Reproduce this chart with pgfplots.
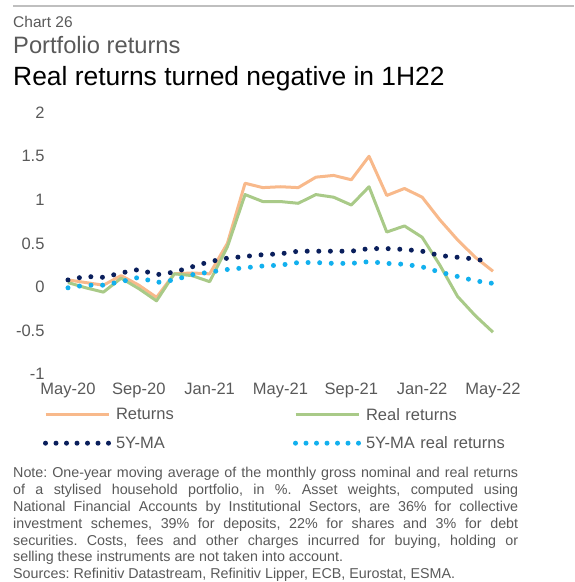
\documentclass[border=0pt]{standalone}
\usepackage{fontspec}
\setmainfont{Liberation Sans}
\usepackage{pgfplots}
\pgfplotsset{compat=1.18}
\definecolor{retor}{HTML}{F8B98B}
\definecolor{realgr}{HTML}{A9CA88}
\definecolor{navy}{HTML}{0A1F5C}
\definecolor{sky}{HTML}{12B0EE}
\definecolor{txtgray}{HTML}{595959}
\definecolor{rulegray}{HTML}{BFBFBF}
\begin{document}
\begin{tikzpicture}[x=1pt,y=1pt]
\useasboundingbox (0,0) rectangle (574,-582);
\draw[rulegray, line width=2pt] (13,-5.5) -- (574,-5.5);
\node[anchor=base west, inner sep=0, text=txtgray, font=\fontsize{15.5}{18}\selectfont] at (13,-27) {Chart 26};
\node[anchor=base west, inner sep=0, text=txtgray, font=\fontsize{23.7}{28}\selectfont] at (13,-53.3) {Portfolio returns};
\node[anchor=base west, inner sep=0, text=black, font=\fontsize{26.4}{30}\selectfont] at (13,-85) {Real returns turned negative in 1H22};
\coordinate (axsw) at (68pt,-374pt);
\begin{axis}[
  at={(axsw)}, anchor=south west,
  scale only axis, width=425pt, height=261.3pt,
  xmin=0, xmax=24, ymin=-1, ymax=2,
  axis line style={draw=none},
  tick style={draw=none},
  major tick length=0pt,
  clip=false,
  xtick={0,4,8,12,16,20,24},
  xticklabels={May-20,Sep-20,Jan-21,May-21,Sep-21,Jan-22,May-22},
  ytick={-1,-0.5,0,0.5,1,1.5,2},
  yticklabels={-1,-0.5,0,0.5,1,1.5,2},
  ticklabel style={font=\fontsize{16.5}{18}\selectfont, text=txtgray},
  yticklabel style={xshift=-20pt},
  xticklabel style={yshift=-5pt},
  legend columns=2,
  legend cell align=left,
  legend style={draw=none, fill=none, inner sep=0pt, outer sep=0pt,
    at={(-0.0588,-0.1305)}, anchor=north west,
    font=\fontsize{16.5}{18}\selectfont, text=txtgray,
    row sep=14.9pt, column sep=0pt,
    /tikz/every odd column/.append style={column sep=5pt},
    nodes={inner sep=0pt, text width=177pt}},
  legend image code/.code={\draw[#1] (0pt,0pt) -- (63pt,0pt);},
]
\addplot[retor, line width=3pt, line join=round] coordinates {
(0,0.08) (1,0.05) (2,0.02) (3,0.13) (4,0.02) (5,-0.12) (6,0.15) (7,0.16) (8,0.15)
(9,0.50) (10,1.19) (11,1.14) (12,1.15) (13,1.14) (14,1.26) (15,1.28) (16,1.23)
(17,1.50) (18,1.05) (19,1.13) (20,1.03) (21,0.77) (22,0.54) (23,0.34) (24,0.18)};
\addlegendentry{Returns}
\addplot[realgr, line width=3pt, line join=round] coordinates {
(0,0.05) (1,-0.01) (2,-0.06) (3,0.10) (4,-0.02) (5,-0.16) (6,0.15) (7,0.13) (8,0.06)
(9,0.46) (10,1.06) (11,0.98) (12,0.98) (13,0.96) (14,1.06) (15,1.03) (16,0.94)
(17,1.15) (18,0.63) (19,0.70) (20,0.57) (21,0.25) (22,-0.11) (23,-0.33) (24,-0.52)};
\addlegendentry{Real returns}
\addplot[navy, line width=5pt, line cap=round, dash pattern=on 0pt off 11.6pt,
  legend image post style={dash pattern=on 0pt off 10.5pt}] coordinates {
(0,0.08) (1,0.12) (2,0.11) (3,0.16) (4,0.20) (5,0.14) (6,0.17) (7,0.23) (8,0.29)
(9,0.33) (10,0.35) (11,0.37) (12,0.38) (13,0.41) (14,0.41) (15,0.41) (16,0.41)
(17,0.44) (18,0.44) (19,0.43) (20,0.41) (21,0.36) (22,0.34) (23,0.32) (23.5,0.30)};
\addlegendentry{5Y-MA}
\addplot[sky, line width=5pt, line cap=round, dash pattern=on 0pt off 11.6pt,
  legend image post style={dash pattern=on 0pt off 10.5pt}] coordinates {
(0,-0.01) (1,0.02) (2,0.02) (3,0.06) (4,0.11) (5,0.05) (6,0.08) (7,0.14) (8,0.17)
(9,0.20) (10,0.22) (11,0.24) (12,0.25) (13,0.28) (14,0.28) (15,0.27) (16,0.27)
(17,0.29) (18,0.27) (19,0.26) (20,0.23) (21,0.17) (22,0.12) (23,0.07) (24,0.04)};
\addlegendentry{5Y-MA real returns}
\end{axis}
\node[anchor=north west, inner sep=0, text width=505pt, align=justify, text=txtgray,
  font=\fontsize{14.3}{16.8}\selectfont] at (13,-467.3) {\frenchspacing\setlength{\parindent}{0pt}%
Note: One-year moving average of the monthly gross nominal and real returns\linebreak
of a stylised household portfolio, in \%. Asset weights, computed using\linebreak
National Financial Accounts by Institutional Sectors, are 36\% for collective\linebreak
investment schemes, 39\% for deposits, 22\% for shares and 3\% for debt\linebreak
securities. Costs, fees and other charges incurred for buying, holding or\linebreak
selling these instruments are not taken into account.\par
Sources: Refinitiv Datastream, Refinitiv Lipper, ECB, Eurostat, ESMA.};
\end{tikzpicture}
\end{document}
